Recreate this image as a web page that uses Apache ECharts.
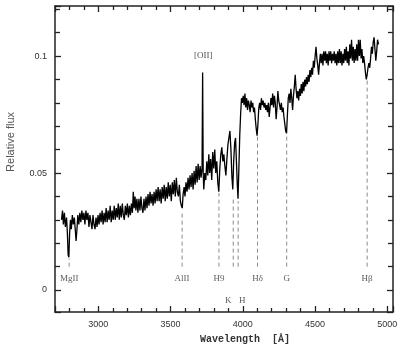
<!DOCTYPE html>
<html><head><meta charset="utf-8">
<script src="https://cdn.jsdelivr.net/npm/echarts@6/dist/echarts.min.js"></script>
<style>html,body{margin:0;padding:0;background:#fff}#c{width:402px;height:346px}</style>
</head><body><div id="c"></div>
<script>
// Spectrum: wavelength (Å) and relative flux
const wave = [2745,2752,2758,2765,2772,2780,2786,2791,2796,2801,2807,2813,2820,2827,2834,2840,2846,2852,2858,2865,2872,2879,2886,2893,2900,2907,2914,2921,2928,2935,2942,2949,2956,2963,2970,2977,2984,2991,2998,3005,3012,3019,3026,3033,3040,3047,3054,3061,3068,3075,3082,3089,3096,3103,3110,3117,3124,3131,3138,3145,3152,3159,3166,3173,3180,3187,3194,3201,3208,3215,3222,3229,3236,3242,3248,3254,3260,3267,3274,3281,3288,3295,3302,3309,3316,3323,3330,3337,3344,3351,3358,3365,3372,3379,3386,3393,3400,3407,3414,3421,3428,3435,3442,3449,3456,3463,3470,3477,3484,3491,3498,3505,3512,3519,3526,3533,3540,3547,3554,3561,3568,3575,3581,3587,3594,3600,3607,3614,3621,3628,3635,3642,3649,3656,3663,3670,3677,3684,3691,3698,3705,3711,3718,3722,3726,3730,3737,3744,3751,3758,3765,3771,3778,3785,3792,3799,3806,3813,3820,3827,3834,3841,3848,3855,3862,3869,3876,3883,3890,3897,3904,3911,3918,3925,3931,3937,3944,3950,3956,3962,3967,3973,3979,3985,3991,3997,4003,4009,4015,4021,4027,4033,4039,4045,4051,4057,4063,4069,4075,4081,4087,4093,4099,4105,4111,4117,4123,4129,4135,4141,4147,4153,4159,4165,4171,4177,4183,4189,4195,4201,4207,4213,4219,4225,4231,4237,4243,4249,4255,4261,4267,4273,4279,4285,4291,4297,4303,4309,4315,4321,4327,4333,4339,4345,4351,4357,4363,4369,4375,4381,4387,4393,4399,4405,4411,4417,4423,4429,4435,4441,4447,4453,4459,4465,4471,4477,4483,4489,4495,4501,4507,4513,4519,4525,4531,4537,4543,4549,4555,4561,4567,4573,4579,4585,4591,4597,4603,4609,4615,4621,4627,4633,4639,4645,4651,4657,4663,4669,4675,4681,4687,4693,4699,4705,4711,4717,4723,4729,4735,4741,4747,4753,4759,4765,4771,4777,4783,4789,4795,4801,4807,4813,4819,4825,4831,4837,4843,4849,4855,4861,4867,4873,4879,4885,4891,4897,4903,4909,4915,4921,4927,4933,4940];
const flux = [
0.030,0.034,0.028,0.033,0.027,0.031,0.024,0.015,0.014,0.024,0.030,0.026,0.032,0.028,0.031,0.026,0.021,
0.026,0.032,0.028,0.033,0.029,0.034,0.030,0.033,0.028,0.034,0.030,0.033,0.027,0.032,0.029,0.026,0.032,0.028,0.026,0.031,0.027,0.032,0.028,0.033,0.029,0.034,0.028,0.033,0.029,0.035,0.029,0.034,0.030,0.036,0.029,0.034,0.030,0.036,0.030,0.035,0.031,0.037,0.030,0.036,0.031,0.037,0.032,0.030,0.036,0.032,0.037,0.031,0.036,0.032,0.037,0.033,
0.042,0.035,0.040,0.034,0.039,0.033,0.039,0.034,0.040,0.035,0.033,0.039,0.034,0.040,0.035,0.041,0.036,0.042,0.037,0.041,0.036,0.042,0.037,0.043,0.038,0.044,0.038,0.043,0.037,0.044,0.039,0.045,0.038,0.044,0.039,0.046,0.040,0.045,0.038,0.046,0.041,0.047,0.040,0.048,0.042,0.040,0.045,0.038,0.036,
0.035,0.041,0.044,0.040,0.046,0.042,0.048,0.043,0.049,0.044,0.050,0.043,0.051,0.045,0.053,0.046,0.054,0.047,0.053,0.048,
0.052,0.093,0.050,0.043,0.050,0.047,0.055,0.049,0.058,0.050,0.056,0.047,0.059,0.052,0.060,0.050,0.055,0.046,0.042,0.052,0.058,0.061,0.055,0.058,0.053,0.049,0.056,0.062,0.065,0.068,0.060,0.048,0.043,0.055,0.063,0.065,0.055,0.045,0.039,0.052,0.066,0.075,
0.082,0.080,0.083,0.079,0.084,0.078,0.082,0.077,0.081,0.079,0.076,0.081,0.078,0.080,0.076,0.078,0.073,0.069,0.066,0.071,0.078,0.080,0.077,0.082,0.079,0.081,0.078,0.080,0.077,0.079,0.076,0.080,0.074,0.078,0.082,0.079,0.084,0.078,0.083,0.080,0.073,0.078,0.085,0.081,0.079,0.077,0.080,0.076,0.078,0.074,0.071,0.068,0.067,0.075,0.082,0.084,0.080,0.086,0.082,0.077,0.083,0.087,0.092,0.086,0.082,0.085,0.081,0.086,0.083,0.088,0.084,0.089,0.085,0.090,0.087,0.091,0.088,0.092,0.089,0.094,0.091,0.095,0.092,0.098,0.095,0.100,0.104,0.099,0.096,0.092,0.097,0.101,
0.097,0.101,0.096,0.102,0.098,0.102,0.097,0.101,0.096,0.102,0.098,0.102,0.097,0.101,0.098,0.102,0.097,0.101,0.096,0.102,0.097,0.103,0.097,0.102,0.096,0.101,0.097,0.103,0.098,0.104,0.097,0.102,0.096,0.105,0.099,0.107,0.098,0.104,0.097,0.103,0.098,0.105,0.098,0.107,0.100,0.107,0.099,0.103,0.097,0.100,
0.097,0.093,0.090,0.092,0.095,0.097,0.095,0.099,0.104,0.101,0.106,0.108,0.103,0.098,0.102,0.107,0.105];

// Absorption features
const featNames = ['MgII','AlII','H9','K','H','Hδ','G','Hβ'];
const featWave  = [2798, 3580, 3835, 3934, 3968, 4102, 4304, 4861];
const featTop   = [0.0135, 0.033, 0.0415, 0.040, 0.038, 0.066, 0.067, 0.0897];
const featBottom = 0.010;
const featLabelRow = [1, 1, 1, 2, 2, 1, 1, 1];
const rowValue = {1: 0.0047, 2: -0.0047};

const emission = {name: '[OII]', wave: 3727, y: 0.1};

const xMin = 2700, xMax = 5040;
const yMin = -0.0094, yMax = 0.1214;

const chart = echarts.init(document.getElementById('c'), null, {renderer: 'canvas'});

const axisLine = {lineStyle: {color: '#222', width: 1.5}};
function xAx(pos, showLabels) {
  return {
    type: 'value', position: pos, min: xMin, max: xMax, splitNumber: 5,
    axisLine: Object.assign({onZero: false}, axisLine),
    axisTick: {inside: true, length: 6, lineStyle: {color: '#222', width: 1.3}},
    minorTick: {show: true, splitNumber: 5, length: 4, lineStyle: {color: '#222', width: 1.3}},
    splitLine: {show: false},
    axisLabel: {show: showLabels, showMinLabel: false, showMaxLabel: false, margin: 8,
      fontFamily: 'Liberation Sans', fontSize: 9, color: '#333',
      formatter: v => (Math.abs(v % 500) < 1e-6 ? String(v) : '')}
  };
}
function yAx(pos, showLabels) {
  return {
    type: 'value', position: pos, min: yMin, max: yMax, splitNumber: 3,
    axisLine: Object.assign({onZero: false}, axisLine),
    axisTick: {inside: true, length: 6, lineStyle: {color: '#222', width: 1.3}},
    minorTick: {show: true, splitNumber: 5, length: 5, lineStyle: {color: '#222', width: 1.3}},
    splitLine: {show: false},
    axisLabel: {show: showLabels, showMinLabel: false, showMaxLabel: false, margin: 8,
      fontFamily: 'Liberation Sans', fontSize: 9, color: '#333',
      formatter: v => {
        const r = Math.round(v * 100) / 100;
        if (Math.abs(v - r) > 1e-6) return '';
        if (Math.abs(Math.round(r * 20) - r * 20) > 1e-6) return '';
        return r === 0 ? '0' : String(r);
      }}
  };
}

const series = [];
series.push({
  type: 'line', xAxisIndex: 0, yAxisIndex: 0, showSymbol: false, symbol: 'none',
  data: wave.map((w, i) => [w, flux[i]]),
  lineStyle: {color: '#000', width: 1.3}, animation: false, z: 5
});
featWave.forEach((w, i) => {
  series.push({
    type: 'line', xAxisIndex: 0, yAxisIndex: 0, symbol: 'none', animation: false,
    data: [[w, featBottom], [w, featTop[i]]],
    lineStyle: {color: '#8a8a8a', width: 1, type: [4, 3]}, z: 3
  });
});
series.push({
  type: 'scatter', xAxisIndex: 0, yAxisIndex: 0, symbolSize: 0, animation: false,
  data: featNames.map((n, i) => ({name: n, value: [featWave[i], rowValue[featLabelRow[i]]],
    label: {offset: n === 'K' ? [-5, 0] : (n === 'H' ? [4, 0] : [0, 0])}})),
  label: {show: true, position: 'inside', formatter: p => p.name,
    fontFamily: 'Liberation Serif', fontSize: 9, color: '#333'}
});
series.push({
  type: 'scatter', xAxisIndex: 0, yAxisIndex: 0, symbolSize: 0, animation: false,
  data: [{name: emission.name, value: [emission.wave, emission.y]}],
  label: {show: true, position: 'inside', formatter: p => p.name,
    fontFamily: 'Liberation Serif', fontSize: 9, color: '#222'}
});

chart.setOption({
  animation: false,
  grid: {left: 55, right: 9, top: 6, bottom: 34, containLabel: false},
  xAxis: [xAx('bottom', true), xAx('top', false)],
  yAxis: [yAx('left', true), yAx('right', false)],
  series: series,
  graphic: [
    {type: 'text', left: 5, top: 112, rotation: Math.PI / 2,
      style: {text: 'Relative flux', font: '11px "Liberation Sans"', fill: '#555'}},
    {type: 'text', left: 200, top: 334,
      style: {text: 'Wavelength  [Å]', font: 'bold 10px "Liberation Mono"', fill: '#333'}}
  ]
});
</script></body></html>
